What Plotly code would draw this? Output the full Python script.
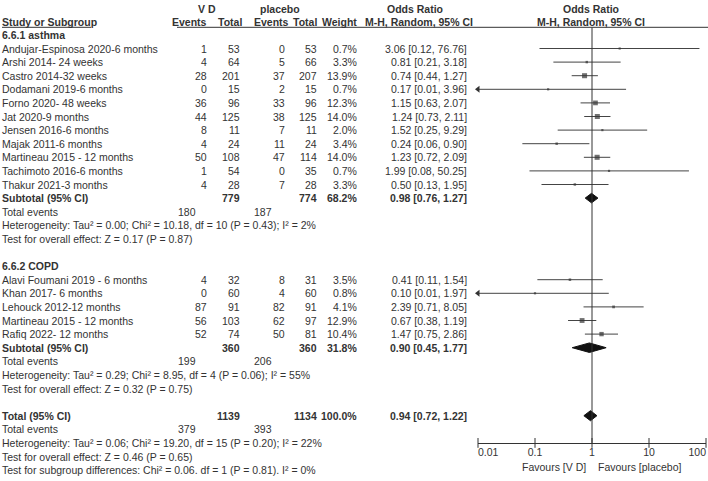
import plotly.graph_objects as go

# ---------------- data ----------------
asthma_studies = ["Andujar-Espinosa 2020-6 months", "Arshi 2014- 24 weeks", "Castro 2014-32 weeks",
                  "Dodamani 2019-6 months", "Forno 2020- 48 weeks", "Jat 2020-9 months",
                  "Jensen 2016-6 months", "Majak 2011-6 months", "Martineau 2015 - 12 months",
                  "Tachimoto 2016-6 months", "Thakur 2021-3 months"]
asthma_vd_events = [1, 4, 28, 0, 36, 44, 8, 4, 50, 1, 4]
asthma_vd_total = [53, 64, 201, 15, 96, 125, 11, 24, 108, 54, 28]
asthma_pl_events = [0, 5, 37, 2, 33, 38, 7, 11, 47, 0, 7]
asthma_pl_total = [53, 66, 207, 15, 96, 125, 11, 24, 114, 35, 28]
asthma_weight = [0.7, 3.3, 13.9, 0.7, 12.3, 14.0, 2.0, 3.4, 14.0, 0.7, 3.3]
asthma_or = [3.06, 0.81, 0.74, 0.17, 1.15, 1.24, 1.52, 0.24, 1.23, 1.99, 0.50]
asthma_lo = [0.12, 0.21, 0.44, 0.01, 0.63, 0.73, 0.25, 0.06, 0.72, 0.08, 0.13]
asthma_hi = [76.76, 3.18, 1.27, 3.96, 2.07, 2.11, 9.29, 0.90, 2.09, 50.25, 1.95]
asthma_sub = dict(vd_total=779, pl_total=774, weight=68.2, or_=0.98, lo=0.76, hi=1.27,
                  vd_events=180, pl_events=187)
asthma_het = "Heterogeneity: Tau² = 0.00; Chi² = 10.18, df = 10 (P = 0.43); I² = 2%"
asthma_test = "Test for overall effect: Z = 0.17 (P = 0.87)"

copd_studies = ["Alavi Foumani 2019 - 6 months", "Khan 2017- 6 months", "Lehouck 2012-12 months",
                "Martineau 2015 - 12 months", "Rafiq 2022- 12 months"]
copd_vd_events = [4, 0, 87, 56, 52]
copd_vd_total = [32, 60, 91, 103, 74]
copd_pl_events = [8, 4, 82, 62, 50]
copd_pl_total = [31, 60, 91, 97, 81]
copd_weight = [3.5, 0.8, 4.1, 12.9, 10.4]
copd_or = [0.41, 0.10, 2.39, 0.67, 1.47]
copd_lo = [0.11, 0.01, 0.71, 0.38, 0.75]
copd_hi = [1.54, 1.97, 8.05, 1.19, 2.86]
copd_sub = dict(vd_total=360, pl_total=360, weight=31.8, or_=0.90, lo=0.45, hi=1.77,
                vd_events=199, pl_events=206)
copd_het = "Heterogeneity: Tau² = 0.29; Chi² = 8.95, df = 4 (P = 0.06); I² = 55%"
copd_test = "Test for overall effect: Z = 0.32 (P = 0.75)"

total_sub = dict(vd_total=1139, pl_total=1134, weight=100.0, or_=0.94, lo=0.72, hi=1.22,
                 vd_events=379, pl_events=393)
total_het = "Heterogeneity: Tau² = 0.06; Chi² = 19.20, df = 15 (P = 0.20); I² = 22%"
total_test = "Test for overall effect: Z = 0.46 (P = 0.65)"
subgroup_test = "Test for subgroup differences: Chi² = 0.06. df = 1 (P = 0.81). I² = 0%"

groups = [
    ("6.6.1 asthma", asthma_studies, asthma_vd_events, asthma_vd_total, asthma_pl_events,
     asthma_pl_total, asthma_weight, asthma_or, asthma_lo, asthma_hi, asthma_sub, asthma_het, asthma_test),
    ("6.6.2 COPD", copd_studies, copd_vd_events, copd_vd_total, copd_pl_events,
     copd_pl_total, copd_weight, copd_or, copd_lo, copd_hi, copd_sub, copd_het, copd_test),
]

tick_vals = [0.01, 0.1, 1, 10, 100]
tick_text = ["0.01", "0.1", "1", "10", "100"]
favours_left = "Favours [V D]"
favours_right = "Favours [placebo]"

# ---------------- layout helpers ----------------
W, H = 708, 481
ROW0, DY = 48.5, 13.6


def prow(p):
    return (p - ROW0) / DY


FONT = "Liberation Sans, Arial, sans-serif"
FS = 10.5
TXT = "#333333"
LINE = "#333333"

X_STUDY = 1
X_VDE, X_VDT, X_PLE, X_PLT, X_W = 208, 241, 286, 318, 358
X_TE_VD, X_TE_PL = 197, 273
X_OR = 468

ann = []


def txt(x, r, s, anchor="left", bold=False, ref="x"):
    ann.append(dict(x=x, y=r, xref=ref, yref="y", text=f"<b>{s}</b>" if bold else s,
                    xanchor=anchor, yanchor="middle", showarrow=False, borderpad=0,
                    font=dict(family=FONT, size=FS, color=TXT)))


def fmt_ci(o, l, h):
    return f"{o:.2f} [{l:.2f}, {h:.2f}]"


fig = go.Figure()

# headers
r1 = prow(8.5)
r2 = prow(21.5)
txt(207, r1, "V D", "center", True)
txt(280, r1, "placebo", "center", True)
txt(415, r1, "Odds Ratio", "center", True)
txt(591, r1, "Odds Ratio", "center", True)
txt(X_STUDY, r2, "Study or Subgroup", "left", True)
txt(208, r2, "Events", "right", True)
txt(243, r2, "Total", "right", True)
txt(290, r2, "Events", "right", True)
txt(318, r2, "Total", "right", True)
txt(358, r2, "Weight", "right", True)
txt(419, r2, "M-H, Random, 95% CI", "center", True)
txt(591, r2, "M-H, Random, 95% CI", "center", True)

r_line = prow(27.3)
shapes = [
    dict(type="line", xref="x", yref="y", x0=2, x1=91, y0=r_line, y1=r_line, line=dict(color=LINE, width=1)),
    dict(type="line", xref="x", yref="y", x0=177, x1=708, y0=r_line, y1=r_line, line=dict(color=LINE, width=1)),
]

ci_x, ci_y = [], []
sq_x, sq_y, sq_s = [], [], []
arr_x, arr_y = [], []


def diamond(o, l, h, r, half=0.35):
    fig.add_trace(go.Scatter(x=[l, o, h, o, l], y=[r, r - half, r, r + half, r], xaxis="x2", yaxis="y",
                             mode="lines", fill="toself", fillcolor="#111111",
                             line=dict(color="#111111", width=1), hoverinfo="skip", showlegend=False))


r = -1
for (label, st, ve, vt, pe, pt, wt, orr, lo, hi, sub, het, test) in groups:
    txt(X_STUDY, r, label, "left", True)
    r += 1
    for i in range(len(st)):
        txt(X_STUDY, r, st[i])
        txt(X_VDE, r, str(ve[i]), "right")
        txt(X_VDT, r, str(vt[i]), "right")
        txt(X_PLE, r, str(pe[i]), "right")
        txt(X_PLT, r, str(pt[i]), "right")
        txt(X_W, r, f"{wt[i]:.1f}%", "right")
        txt(X_OR, r, fmt_ci(orr[i], lo[i], hi[i]), "right")
        ci_x += [lo[i], hi[i], None]
        ci_y += [r, r, None]
        sq_x.append(orr[i])
        sq_y.append(r)
        sq_s.append(max(2.2, 1.35 * wt[i] ** 0.5))
        if lo[i] <= tick_vals[0]:
            arr_x.append(lo[i])
            arr_y.append(r)
        r += 1
    txt(X_STUDY, r, "Subtotal (95% CI)", "left", True)
    txt(X_VDT, r, str(sub["vd_total"]), "right", True)
    txt(X_PLT, r, str(sub["pl_total"]), "right", True)
    txt(X_W, r, f"{sub['weight']:.1f}%", "right", True)
    txt(X_OR, r, fmt_ci(sub["or_"], sub["lo"], sub["hi"]), "right", True)
    diamond(sub["or_"], sub["lo"], sub["hi"], r)
    r += 1
    txt(X_STUDY, r, "Total events")
    txt(X_TE_VD, r, str(sub["vd_events"]), "right")
    txt(X_TE_PL, r, str(sub["pl_events"]), "right")
    r += 1
    txt(X_STUDY, r, het)
    r += 1
    txt(X_STUDY, r, test)
    r += 2

# overall
txt(X_STUDY, r, "Total (95% CI)", "left", True)
txt(X_VDT, r, str(total_sub["vd_total"]), "right", True)
txt(X_PLT, r, str(total_sub["pl_total"]), "right", True)
txt(X_W, r, f"{total_sub['weight']:.1f}%", "right", True)
txt(X_OR, r, fmt_ci(total_sub["or_"], total_sub["lo"], total_sub["hi"]), "right", True)
diamond(total_sub["or_"], total_sub["lo"], total_sub["hi"], r, 0.37)
r += 1
txt(X_STUDY, r, "Total events")
txt(X_TE_VD, r, str(total_sub["vd_events"]), "right")
txt(X_TE_PL, r, str(total_sub["pl_events"]), "right")
r += 1
r_axis = r
txt(X_STUDY, r, total_het)
r += 1
txt(X_STUDY, r, total_test)
r += 1
txt(X_STUDY, r, subgroup_test)

# CI lines
fig.add_trace(go.Scatter(x=ci_x, y=ci_y, xaxis="x2", yaxis="y", mode="lines",
                         line=dict(color="#444444", width=1), hoverinfo="skip", showlegend=False))
# squares
fig.add_trace(go.Scatter(x=sq_x, y=sq_y, xaxis="x2", yaxis="y", mode="markers",
                         marker=dict(symbol="square", size=sq_s, color="#333333", line=dict(width=0)),
                         hoverinfo="skip", showlegend=False, cliponaxis=False))
# arrows
fig.add_trace(go.Scatter(x=arr_x, y=arr_y, xaxis="x2", yaxis="y", mode="markers",
                         marker=dict(symbol="triangle-left", size=6, color="#333333", line=dict(width=0)),
                         hoverinfo="skip", showlegend=False, cliponaxis=False))
# line of no effect
fig.add_trace(go.Scatter(x=[1, 1], y=[r_line, r_axis], xaxis="x2", yaxis="y", mode="lines",
                         line=dict(color=LINE, width=1), hoverinfo="skip", showlegend=False))
# tick marks crossing axis
fig.add_trace(go.Scatter(x=tick_vals, y=[r_axis] * len(tick_vals), xaxis="x2", yaxis="y", mode="markers",
                         marker=dict(symbol="line-ns", size=7, line=dict(color=LINE, width=1)),
                         hoverinfo="skip", showlegend=False, cliponaxis=False))
# tick labels
fig.add_trace(go.Scatter(x=tick_vals, y=[prow(453)] * len(tick_vals), xaxis="x2", yaxis="y", mode="text",
                         text=tick_text,
                         textposition=["middle right", "middle center", "middle center", "middle center", "middle left"],
                         textfont=dict(family=FONT, size=FS, color=TXT),
                         hoverinfo="skip", showlegend=False, cliponaxis=False))

r_fav = prow(467)
txt(587, r_fav, favours_left, "right")
txt(597, r_fav, favours_right, "left")

fig.update_layout(
    width=W, height=H, margin=dict(l=0, r=0, t=0, b=0, pad=0),
    paper_bgcolor="white", plot_bgcolor="white", showlegend=False,
    annotations=ann, shapes=shapes,
    xaxis=dict(range=[0, W], visible=False, fixedrange=True, domain=[0, 1]),
    xaxis2=dict(type="log", range=[-2, 2], domain=[478 / W, 706 / W], anchor="free",
                position=1 - 443 / H, showline=True, linecolor=LINE, linewidth=1,
                ticks="", showticklabels=False, showgrid=False, zeroline=False, fixedrange=True),
    yaxis=dict(range=[prow(H), prow(0)], visible=False, fixedrange=True, domain=[0, 1]),
)

fig.write_html("out.html", config={"displayModeBar": False},
               post_script="document.body.style.margin='0';document.body.style.overflow='hidden';")
